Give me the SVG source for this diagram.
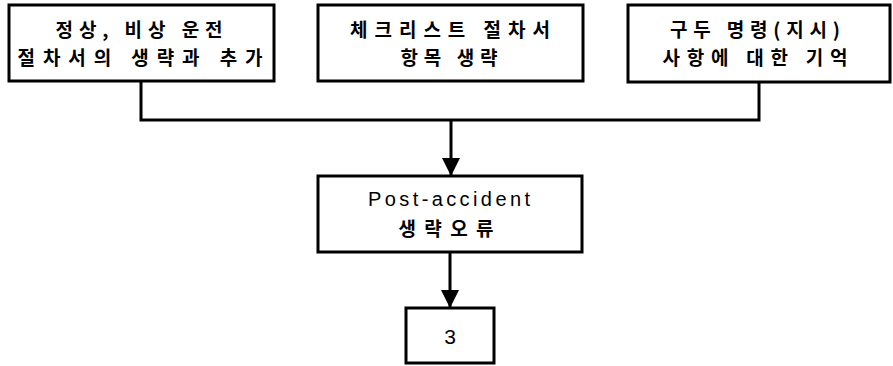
<svg xmlns="http://www.w3.org/2000/svg" width="893" height="366" viewBox="0 0 893 366">
  <style>
    .box { fill: #fff; stroke: #000; stroke-width: 3; }
    .ko { font-family: "Noto Sans CJK KR", "Noto Sans", sans-serif; font-weight: bold; font-size: 19px; fill: #000; text-anchor: middle; }
    .en { font-family: "Liberation Sans", Arial, sans-serif; font-size: 20px; fill: #000; text-anchor: middle; }
    .line { fill: none; stroke: #000; stroke-width: 3; }
  </style>
  <defs>
    <marker id="arrow" markerUnits="userSpaceOnUse" markerWidth="18" markerHeight="24" refX="18" refY="9" orient="auto">
      <path d="M0,0 L18,9 L0,18 Z" fill="#000"/>
    </marker>
  </defs>
  <rect width="893" height="366" fill="#fff"/>

  <g id="connectors">
    <path class="line" d="M141,81 V120 H759 V82"/>
    <path class="line" d="M451,120 V176" marker-end="url(#arrow)"/>
    <path class="line" d="M450,252 V308" marker-end="url(#arrow)"/>
  </g>

  <g id="node1">
    <rect class="box" x="9" y="5" width="265" height="76"/>
    <text class="ko" x="139" y="37" textLength="167" lengthAdjust="spacing">정상, 비상 운전</text>
    <text class="ko" x="140" y="65" textLength="245" lengthAdjust="spacing">절차서의 생략과 추가</text>
  </g>

  <g id="node2">
    <rect class="box" x="318" y="5" width="265" height="76"/>
    <text class="ko" x="450" y="37" textLength="200" lengthAdjust="spacing">체크리스트 절차서</text>
    <text class="ko" x="449" y="65" textLength="97" lengthAdjust="spacing">항목 생략</text>
  </g>

  <g id="node3">
    <rect class="box" x="628" y="5" width="262" height="77"/>
    <text class="ko" x="755" y="37" textLength="170" lengthAdjust="spacing">구두 명령(지시)</text>
    <text class="ko" x="755" y="65" textLength="185" lengthAdjust="spacing">사항에 대한 기억</text>
  </g>

  <g id="node4">
    <rect class="box" x="318" y="176" width="264" height="76"/>
    <text class="en" x="449" y="206" textLength="162" lengthAdjust="spacing">Post-accident</text>
    <text class="ko" x="446" y="236" textLength="95" lengthAdjust="spacing">생략오류</text>
  </g>

  <g id="node5">
    <rect class="box" x="406" y="308" width="88" height="55"/>
    <text class="en" x="450" y="344" style="font-size:21px">3</text>
  </g>
</svg>
